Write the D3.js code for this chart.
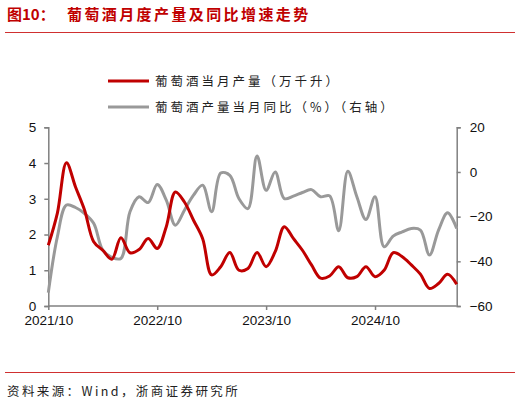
<!DOCTYPE html>
<html><head><meta charset="utf-8">
<script src="https://cdn.jsdelivr.net/npm/d3@7"></script>
<style>
html,body{margin:0;padding:0;background:#fff;}
svg{display:block;}
</style>
</head><body>
<svg id="c" width="521" height="403"></svg>
<script>
const months = ["2021/10","2021/11","2021/12","2022/01","2022/02","2022/03","2022/04","2022/05","2022/06","2022/07","2022/08","2022/09",
"2022/10","2022/11","2022/12","2023/01","2023/02","2023/03","2023/04","2023/05","2023/06","2023/07","2023/08","2023/09",
"2023/10","2023/11","2023/12","2024/01","2024/02","2024/03","2024/04","2024/05","2024/06","2024/07","2024/08","2024/09",
"2024/10","2024/11","2024/12","2025/01","2025/02","2025/03","2025/04","2025/05","2025/06","2025/07"];
const production = [1.70,2.60,4.01,3.33,2.68,1.80,1.56,1.31,1.91,1.49,1.58,1.89,
1.61,2.22,3.19,2.91,2.40,1.89,0.87,1.10,1.50,1.00,1.05,1.50,
1.10,1.52,2.22,1.89,1.56,1.15,0.78,0.84,1.10,0.79,0.82,1.10,
0.82,1.00,1.49,1.38,1.15,0.89,0.49,0.63,0.89,0.61];
const yoy = [-54,-29,-14.8,-15.9,-18.6,-23,-35,-38.2,-38.7,-17.8,-11.1,-13.7,
-5.6,-12.6,-23.8,-17.1,-10.4,-5.9,-17.8,-0.5,-1.5,-11.9,-16.4,7.2,
-8.2,0.0,-11.9,-10.8,-9.2,-7.9,-11.1,-10.7,-26.3,0.3,-11.1,-21.3,
-11.1,-33.5,-28.7,-26.8,-25.3,-26,-37.2,-26,-18.3,-25.3];
const xTickLabels = ["2021/10","2022/10","2023/10","2024/10"];
const leftTicks = [0,1,2,3,4,5];
const rightTicks = [-60,-40,-20,0,20];
const legendLabels = ["葡萄酒当月产量（万千升）","葡萄酒产量当月同比（%）（右轴）"];
const titleLabel = "图10：";
const titleText = "葡萄酒月度产量及同比增速走势";
const sourceText = "资料来源：Wind，浙商证券研究所";

const svg = d3.select("#c");
const red = "#C00000", grey = "#999999", axisCol = "#808080";
const cjk = "'Noto Sans CJK SC','Noto Sans',sans-serif";
const num = "'Liberation Sans',Arial,sans-serif";

const L = 48.3, R = 456.7, T = 127.3, B = 306;
const x = d3.scaleLinear().domain([0, months.length-1]).range([L, R]);
const yL = d3.scaleLinear().domain([0,5]).range([B,T]);
const yR = d3.scaleLinear().domain([-60,20]).range([B,T]);

// title
svg.append("text").attr("x",7).attr("y",20).attr("fill",red)
  .attr("font-family",cjk).attr("font-weight","bold").attr("font-size",15).text(titleLabel);
svg.append("text").attr("x",67).attr("y",20).attr("fill",red)
  .attr("font-family",cjk).attr("font-weight","bold").attr("font-size",15)
  .attr("letter-spacing",2.4).text(titleText);
svg.append("line").attr("x1",5).attr("x2",515).attr("y1",32.5).attr("y2",32.5)
  .attr("stroke","#D03030").attr("stroke-width",1);

// legend
const legColors = [red, grey];
legendLabels.forEach((t,i)=>{
  const ly = 81 + i*26;
  svg.append("line").attr("x1",108).attr("x2",149).attr("y1",ly).attr("y2",ly)
    .attr("stroke",legColors[i]).attr("stroke-width",3);
  svg.append("text").attr("x",155).attr("y",ly+4.5).attr("fill","#222")
    .attr("font-family",cjk).attr("font-size",12.5).attr("letter-spacing",3).text(t);
});

// axes
const gL = svg.append("g").attr("transform",`translate(${L},0)`)
  .call(d3.axisLeft(yL).tickValues(leftTicks).tickSize(4).tickPadding(8).tickFormat(d3.format("d")));
const gR = svg.append("g").attr("transform",`translate(${R},0)`)
  .call(d3.axisRight(yR).tickValues(rightTicks).tickSize(4).tickPadding(9));
const gB = svg.append("g").attr("transform",`translate(0,${B})`)
  .call(d3.axisBottom(x).tickValues(xTickLabels.map(l=>months.indexOf(l)))
    .tickSize(4).tickPadding(5).tickFormat(i=>months[i]));
[gL,gR,gB].forEach(g=>{
  g.select(".domain").attr("stroke",axisCol).attr("stroke-width",1.5);
  g.selectAll(".tick line").attr("stroke",axisCol).attr("stroke-width",1.5);
  g.selectAll(".tick text").attr("fill","#111").attr("font-family",num).attr("font-size",13.5);
});
gB.select(".domain").attr("d",`M${L},0H${R}`);

// lines
const curve = d3.curveCatmullRom.alpha(0.5);
const lineR = d3.line().x((d,i)=>x(i)).y(d=>yR(d)).curve(curve);
const lineL = d3.line().x((d,i)=>x(i)).y(d=>yL(d)).curve(curve);
svg.append("path").datum(yoy).attr("d",lineR).attr("fill","none")
  .attr("stroke",grey).attr("stroke-width",3).attr("stroke-linejoin","round");
svg.append("path").datum(production).attr("d",lineL).attr("fill","none")
  .attr("stroke",red).attr("stroke-width",3).attr("stroke-linejoin","round");

// footer
svg.append("line").attr("x1",5).attr("x2",515).attr("y1",372.5).attr("y2",372.5)
  .attr("stroke","#D03030").attr("stroke-width",1);
svg.append("text").attr("x",7).attr("y",396).attr("fill","#222")
  .attr("font-family",cjk).attr("font-size",12.5).attr("letter-spacing",2.4).text(sourceText);
</script>
</body></html>
